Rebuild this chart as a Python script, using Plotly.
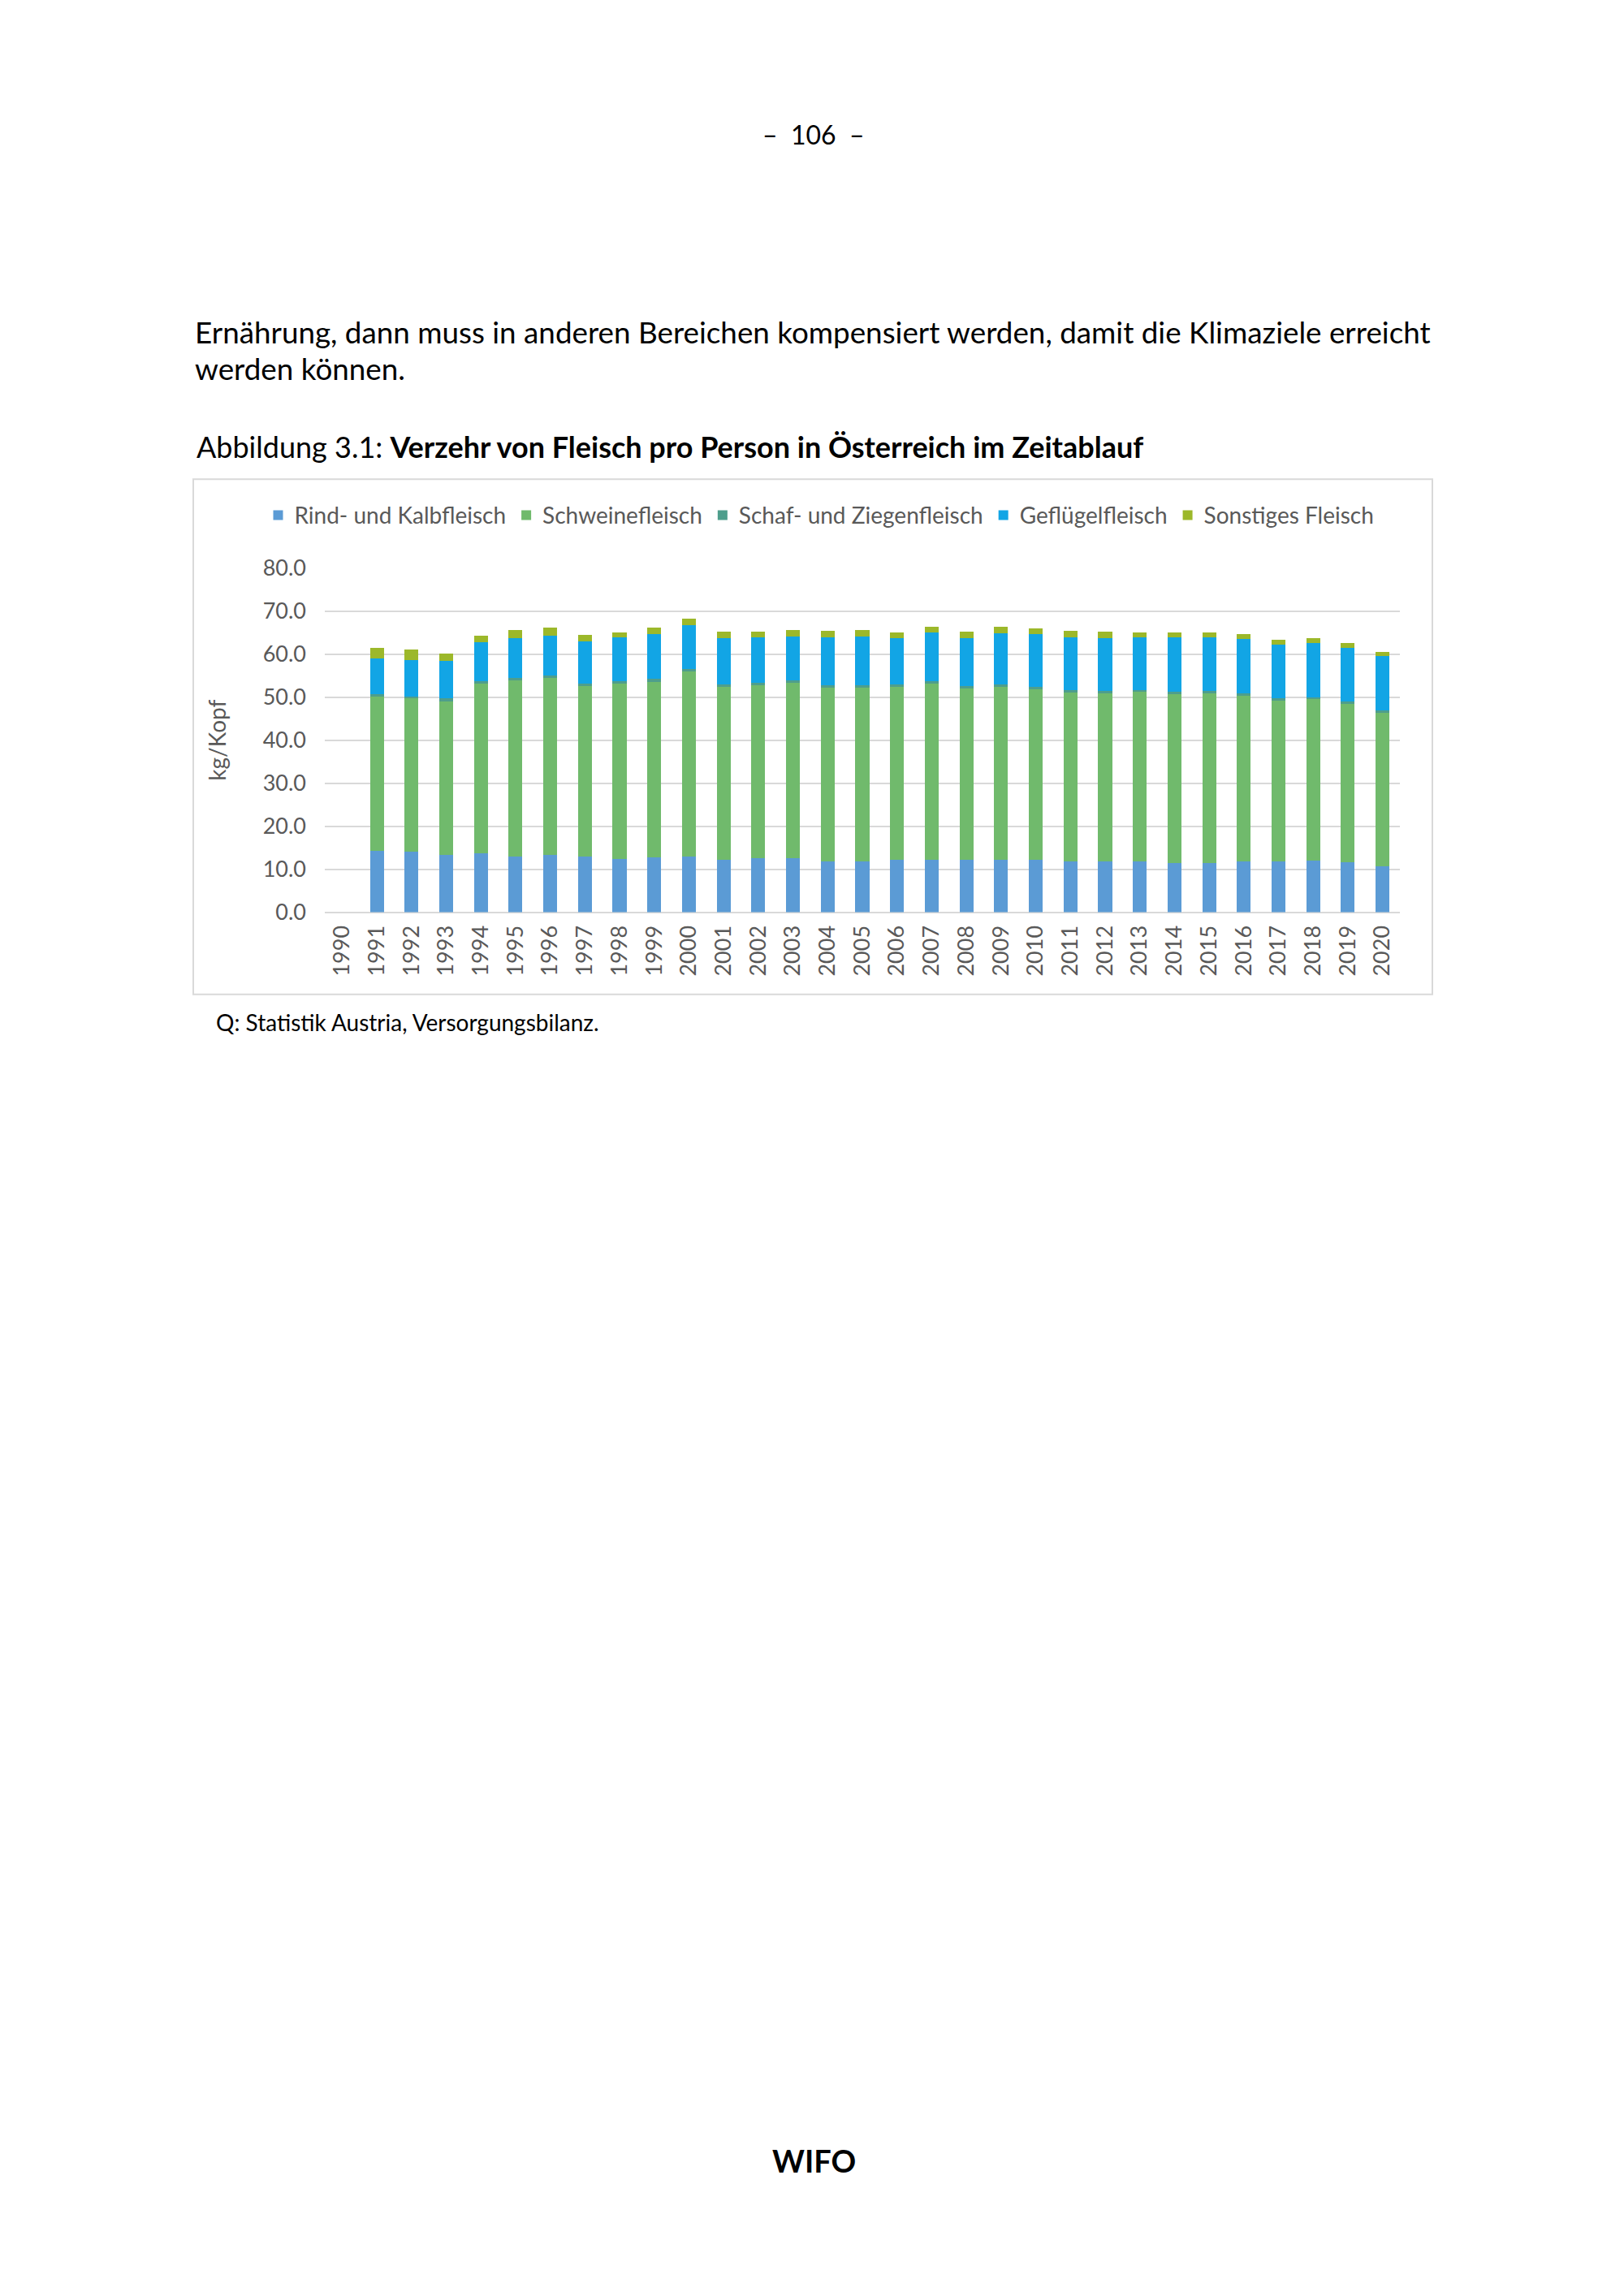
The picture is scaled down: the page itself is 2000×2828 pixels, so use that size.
import plotly.graph_objects as go

# Verzehr von Fleisch pro Person in Österreich (kg/Kopf)
jahre = [str(j) for j in range(1990, 2021)]

rind = [None, 14.3, 14.15, 13.3, 13.7, 13.0, 13.4, 13.0, 12.3, 12.8, 13.0,
        12.1, 12.5, 12.5, 11.85, 11.9, 12.1, 12.1, 12.2, 12.2, 12.1,
        11.9, 11.9, 11.9, 11.5, 11.5, 11.9, 11.9, 12.0, 11.7, 10.75]
schwein = [None, 36.0, 35.7, 35.7, 39.45, 40.96, 41.0, 39.65, 40.85, 40.78, 42.9,
           40.3, 40.46, 40.83, 40.36, 40.25, 40.3, 41.11, 39.89, 40.2, 39.8,
           39.26, 38.95, 39.32, 39.28, 39.35, 38.45, 37.33, 37.48, 36.78, 35.62]
schaf = [None, 0.3, 0.2, 0.8, 0.56, 0.5, 0.56, 0.5, 0.5, 0.62, 0.6,
         0.56, 0.37, 0.56, 0.56, 0.62, 0.5, 0.5, 0.5, 0.5, 0.56,
         0.5, 0.62, 0.43, 0.56, 0.55, 0.5, 0.56, 0.5, 0.56, 0.5]
gefluegel = [None, 8.4, 8.6, 8.6, 9.0, 9.2, 9.33, 9.82, 10.27, 10.39, 10.3,
             10.7, 10.58, 10.26, 11.14, 11.38, 10.76, 11.38, 11.13, 11.94, 12.13,
             12.32, 12.19, 12.32, 12.57, 12.57, 12.68, 12.5, 12.56, 12.5, 12.62]
sonstiges = [None, 2.5, 2.5, 1.7, 1.56, 1.86, 1.86, 1.56, 1.18, 1.55, 1.5,
             1.49, 1.36, 1.5, 1.55, 1.5, 1.36, 1.24, 1.43, 1.43, 1.43,
             1.43, 1.61, 1.12, 1.11, 0.99, 1.12, 0.99, 1.12, 1.12, 1.06]

y_ticks = [0, 10, 20, 30, 40, 50, 60, 70, 80]

W, H = 2000, 2828
DX, DY = 8, 14   # Versatz der Seite im Browser ausgleichen
GRAU = "#595959"
FONT = "Lato"


def px(x):
    return (x - DX) / W


def py(y):
    return 1 - (y - DY) / H


fig = go.Figure()

serien = [
    ("Rind- und Kalbfleisch", rind, "#5B9BD5"),
    ("Schweinefleisch", schwein, "#70BA6C"),
    ("Schaf- und Ziegenfleisch", schaf, "#4E9E8C"),
    ("Geflügelfleisch", gefluegel, "#12A5E5"),
    ("Sonstiges Fleisch", sonstiges, "#9CB82A"),
]
for name, werte, farbe in serien:
    fig.add_trace(go.Bar(x=jahre, y=werte, name=name, marker_color=farbe,
                         marker_line_width=0))

fig.update_layout(
    width=W, height=H,
    margin=dict(l=0, r=0, t=0, b=0),
    paper_bgcolor="white",
    plot_bgcolor="white",
    barmode="stack",
    bargap=0.6,
    showlegend=True,
    legend=dict(orientation="h", x=px(1010), xanchor="center",
                y=py(630), yanchor="middle",
                font=dict(family=FONT, size=28, color=GRAU),
                itemwidth=30, traceorder="normal"),
    font=dict(family=FONT, color=GRAU),
)

fig.update_xaxes(
    domain=[px(400), px(1724)],
    type="category",
    tickangle=-90,
    tickfont=dict(family=FONT, size=27, color=GRAU),
    showgrid=False, showline=False, ticks="", ticklabelstandoff=10,
)
fig.update_yaxes(
    domain=[py(1124.5), py(695.7)],
    range=[0, 80],
    tickvals=y_ticks,
    ticktext=[f"{v:.1f}" for v in y_ticks],
    tickfont=dict(family=FONT, size=27, color=GRAU),
    showgrid=True, gridcolor="#D9D9D9", gridwidth=2,
    zeroline=True, zerolinecolor="#D9D9D9", zerolinewidth=2,
    showline=False, ticks="", ticklabelstandoff=22,
    title=dict(text="kg/Kopf", font=dict(family=FONT, size=28, color=GRAU),
               standoff=36),
)

# Rahmen um die Grafik
fig.add_shape(type="rect", xref="paper", yref="paper",
              x0=px(238), x1=px(1764), y0=py(1227), y1=py(585),
              line=dict(color="#D9D9D9", width=2), fillcolor="rgba(0,0,0,0)")

texte = [
    ("–  106  –", 1002, 155, "center", 32),
    ("Ernährung, dann muss in anderen Bereichen kompensiert werden, damit die Klimaziele erreicht",
     238, 402, "left", 36.8),
    ("werden können.", 238, 447, "left", 36.8),
    ("Abbildung 3.1: <b>Verzehr von Fleisch pro Person in Österreich im Zeitablauf</b>",
     240, 544, "left", 36),
    ("Q: Statistik Austria, Versorgungsbilanz.", 264, 1262, "left", 28),
    ("<b>WIFO</b>", 1002, 2680, "center", 38),
]
for txt, x, y, anker, groesse in texte:
    fig.add_annotation(text=txt, x=px(x), y=py(y), xref="paper", yref="paper",
                       xanchor=anker, yanchor="middle", showarrow=False,
                       font=dict(family=FONT, size=groesse, color="black"))

fig.write_html("out.html")
